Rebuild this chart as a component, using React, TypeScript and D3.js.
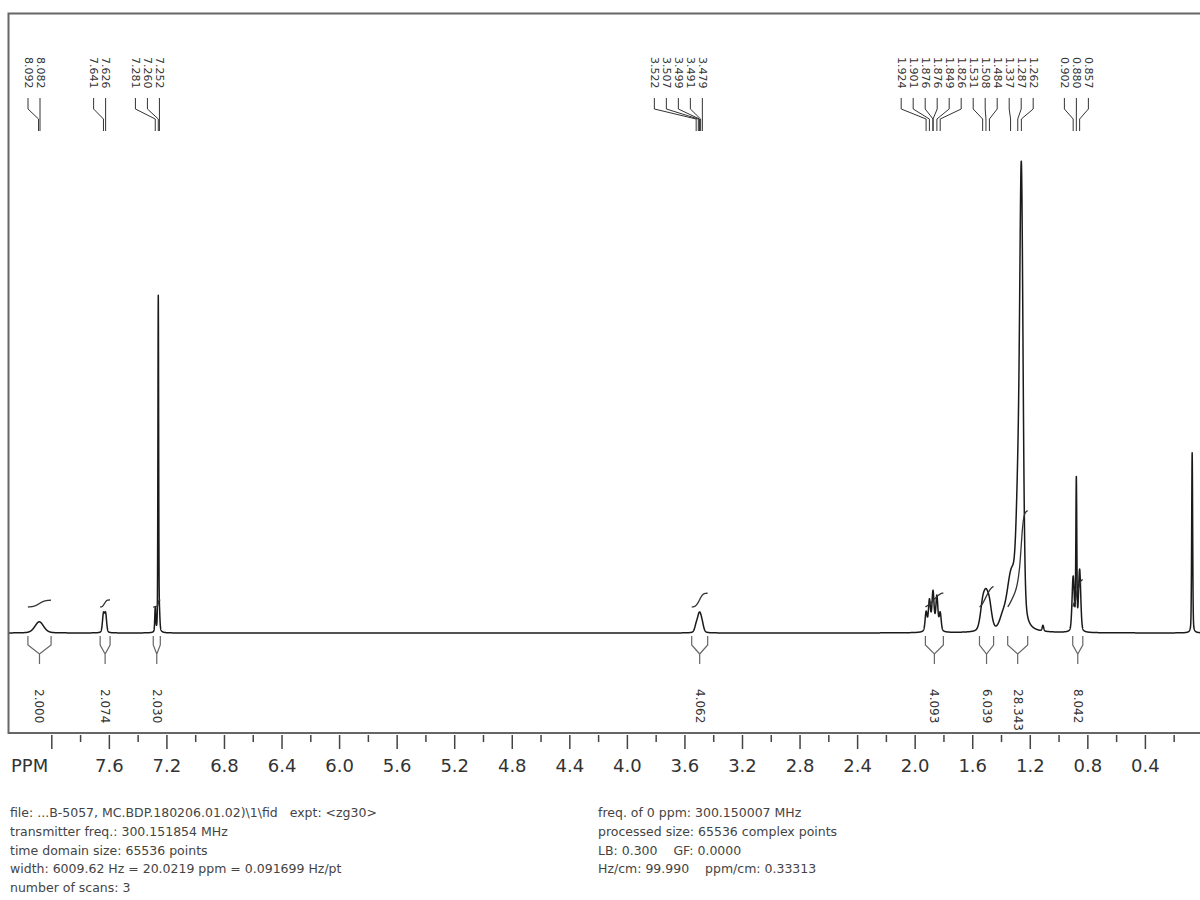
import React from 'react';
import * as d3 from 'd3';

// printed peak picks (ppm), left to right
const peakLabels = [8.092, 8.082, 7.641, 7.626, 7.281, 7.260, 7.252, 3.522, 3.507, 3.499, 3.491, 3.479,
  1.924, 1.901, 1.876, 1.876, 1.849, 1.826, 1.531, 1.508, 1.484, 1.337, 1.287, 1.262, 0.902, 0.880, 0.857];

// lines: position (ppm), height (% of tallest), half width (ppm)
const linePpm = [8.092, 8.082, 7.641, 7.626, 7.281, 7.260, 7.252, 3.522, 3.507, 3.499, 3.491, 3.479,
  1.924, 1.901, 1.876, 1.876, 1.875, 1.849, 1.826, 1.531, 1.508, 1.484, 1.395, 1.337, 1.310, 1.287, 1.262,
  1.112, 0.902, 0.880, 0.857, 0.075];
const lineHeight = [1.2, 1.2, 3.9, 3.9, 5, 70.9, 3, 1.4, 1.6, 1.7, 1.6, 1.4,
  3.8, 5.6, 3.4, 3.4, 1.8, 6.4, 3.6, 5, 5.2, 4.8, 2, 8, 5, 18, 93.5,
  1.2, 11.5, 31.7, 13, 38];
const lineWidth = [0.035, 0.035, 0.008, 0.008, 0.004, 0.003, 0.004, 0.012, 0.012, 0.012, 0.012, 0.012,
  0.008, 0.008, 0.008, 0.008, 0.035, 0.008, 0.008, 0.02, 0.02, 0.02, 0.025, 0.035, 0.04, 0.015, 0.014,
  0.006, 0.009, 0.004, 0.009, 0.004];

// integral regions (ppm) and values
const intFrom = [8.166, 7.664, 7.295, 3.553, 1.929, 1.553, 1.357, 0.905];
const intTo = [8.005, 7.595, 7.246, 3.442, 1.804, 1.455, 1.218, 0.835];
const intValue = ['2.000', '2.074', '2.030', '4.062', '4.093', '6.039', '28.343', '8.042'];

const majorTicks = [8.0, 7.6, 7.2, 6.8, 6.4, 6.0, 5.6, 5.2, 4.8, 4.4, 4.0, 3.6, 3.2, 2.8, 2.4, 2.0, 1.6, 1.2, 0.8, 0.4];
const tickLabels = ['', '7.6', '7.2', '6.8', '6.4', '6.0', '5.6', '5.2', '4.8', '4.4', '4.0', '3.6', '3.2', '2.8', '2.4', '2.0', '1.6', '1.2', '0.8', '0.4'];

const infoLeft = [
  'file: ...B-5057, MC.BDP.180206.01.02)\\1\\fid   expt: <zg30>',
  'transmitter freq.: 300.151854 MHz',
  'time domain size: 65536 points',
  'width: 6009.62 Hz = 20.0219 ppm = 0.091699 Hz/pt',
  'number of scans: 3',
];
const infoRight = [
  'freq. of 0 ppm: 300.150007 MHz',
  'processed size: 65536 complex points',
  'LB: 0.300    GF: 0.0000',
  'Hz/cm: 99.990    ppm/cm: 0.33313',
];

const FONT = '"DejaVu Sans", Verdana, sans-serif';

const x = d3.scaleLinear().domain([8.0, 0.4]).range([51.8, 1145.4]);
const y = d3.scaleLinear().domain([0, 100]).range([633, 159]);

const lineShape = (d: number, w: number) => {
  const u = d / w;
  return 0.3 / (1 + u * u) + 0.7 * Math.exp(-Math.LN2 * u * u);
};
const intensity = (p: number) => {
  let s = 0;
  for (let i = 0; i < linePpm.length; i++) s += lineHeight[i] * lineShape(p - linePpm[i], lineWidth[i]);
  return s;
};

// sample the trace across the frame
const samples: [number, number][] = [];
for (let p = 8.33; p >= -0.02; p -= 0.0005) samples.push([p, intensity(p)]);

// spread labels so they do not overlap
function layoutLabels(xs: number[], gap: number, mid: number) {
  let clusters = xs.map((v, i) => ({ idx: [i], c: v }));
  let merged = true;
  while (merged) {
    merged = false;
    const next: typeof clusters = [];
    for (const cl of clusters) {
      const last = next[next.length - 1];
      if (last) {
        const lastEnd = last.c + ((last.idx.length - 1) * gap) / 2;
        const start = cl.c - ((cl.idx.length - 1) * gap) / 2;
        if (start - lastEnd < gap) {
          const idx = last.idx.concat(cl.idx);
          last.idx = idx;
          last.c = d3.mean(idx, (k) => xs[k]) as number;
          merged = true;
          continue;
        }
      }
      next.push({ idx: cl.idx.slice(), c: cl.c });
    }
    clusters = next;
  }
  const out: number[] = new Array(xs.length);
  clusters.forEach((cl) => {
    const n = cl.idx.length;
    // left part: last label sits on its peak, the rest fan out leftwards
    const s = cl.c < mid
      ? xs[cl.idx[n - 1]] - (n - 1) * gap
      : cl.c - ((n - 1) * gap) / 2;
    cl.idx.forEach((k, j) => (out[k] = s + j * gap));
  });
  return out;
}

export default function App() {
  const line = d3.line<[number, number]>().x((d) => x(d[0])).y((d) => y(d[1]));
  const peakX = peakLabels.map((p) => x(p));
  const labelX = layoutLabels(peakX, 12, 850);

  const kPx = 3.4;
  const intBase = 607;
  const integrals = intFrom.map((f, i) => {
    const pts = samples.filter((s) => s[0] <= f && s[0] >= intTo[i]);
    const cum = d3.cumsum(pts, (s) => s[1]);
    const tot = cum[cum.length - 1] || 1;
    const v = parseFloat(intValue[i]);
    const path = d3.line<number>()
      .x((_, j) => x(pts[j][0]))
      .y((c) => intBase - (c / tot) * v * kPx)(Array.from(cum));
    const x1 = x(f), x2 = x(intTo[i]), xc = (x1 + x2) / 2;
    return { path, x1, x2, xc, label: intValue[i] };
  });

  return (
    <svg width={1200} height={900} style={{ position: 'absolute', left: 0, top: 0, background: '#fff' }}>
      <defs>
        <clipPath id="frame">
          <rect x={9} y={14} width={1200} height={718} />
        </clipPath>
      </defs>
      <rect x={0} y={0} width={1200} height={900} fill="#fff" />
      <g clipPath="url(#frame)">
        <path d={line(samples) || ''} fill="none" stroke="#1a1a1a" strokeWidth={1.5} strokeLinejoin="round" />
        {integrals.map((g, i) => (
          <g key={i}>
            <path d={g.path || ''} fill="none" stroke="#333" strokeWidth={1.3} />
            <path
              d={`M${g.x1},636V645L${g.xc},654L${g.x2},645V636M${g.xc},654V664`}
              fill="none" stroke="#666" strokeWidth={1.2}
            />
            <text
              transform={`translate(${g.xc},689) rotate(90)`}
              dominantBaseline="central" fontFamily={FONT} fontSize={12} fill="#333"
            >{g.label}</text>
          </g>
        ))}
        {peakLabels.map((p, i) => (
          <g key={i}>
            <path
              d={`M${labelX[i]},98V109L${peakX[i]},119V131`}
              fill="none" stroke="#333" strokeWidth={1}
            />
            <text
              transform={`translate(${labelX[i]},57) rotate(90)`}
              dominantBaseline="central" fontFamily={FONT} fontSize={11} fill="#333"
            >{p.toFixed(3)}</text>
          </g>
        ))}
      </g>
      <rect x={8.5} y={13.5} width={1210} height={719.5} fill="none" stroke="#666" strokeWidth={2} />

      {majorTicks.map((t, i) => (
        <g key={t}>
          <line x1={x(t)} x2={x(t)} y1={735} y2={749} stroke="#444" strokeWidth={1.5} />
          <line x1={x(t - 0.2)} x2={x(t - 0.2)} y1={735} y2={742} stroke="#444" strokeWidth={1.5} />
          {tickLabels[i] && (
            <text x={x(t)} y={772} textAnchor="middle" fontFamily={FONT} fontSize={18} fill="#333">{tickLabels[i]}</text>
          )}
        </g>
      ))}
      <text x={11} y={772} fontFamily={FONT} fontSize={18} fill="#333">PPM</text>

      {infoLeft.map((s, i) => (
        <text key={s} x={10} y={817 + i * 18.8} fontFamily={FONT} fontSize={12.5} fill="#444" xmlSpace="preserve">{s}</text>
      ))}
      {infoRight.map((s, i) => (
        <text key={s} x={598} y={817 + i * 18.8} fontFamily={FONT} fontSize={12.5} fill="#444" xmlSpace="preserve">{s}</text>
      ))}
    </svg>
  );
}
